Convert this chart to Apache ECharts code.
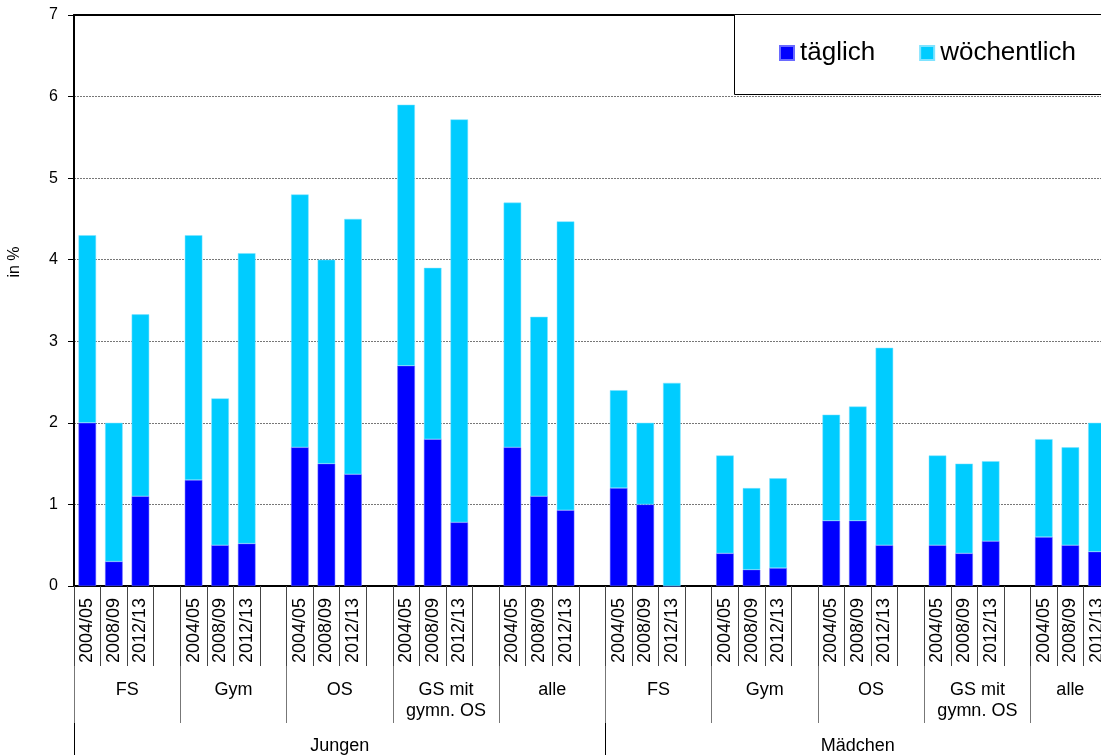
<!DOCTYPE html>
<html>
<head>
<meta charset="utf-8">
<script src="https://cdn.jsdelivr.net/npm/echarts@6/dist/echarts.min.js"></script>
<style>
html,body{margin:0;padding:0;background:#fff;}
#chart{width:1101px;height:755px;}
</style>
</head>
<body>
<div id="chart"></div>
<script>
const genders = ['Jungen', 'Mädchen'];
const groups = ['FS', 'Gym', 'OS', 'GS mit\ngymn. OS', 'alle'];
const years = ['2004/05', '2008/09', '2012/13'];
const yTicks = [0, 1, 2, 3, 4, 5, 6, 7];

// täglich (dark blue segment), per group: 2004/05, 2008/09, 2012/13
const taeglichJungen  = [2.0, 0.3, 1.1,  1.3, 0.5, 0.52,  1.7, 1.5, 1.37,  2.7, 1.8, 0.78,  1.7, 1.1, 0.93];
const taeglichMaedchen = [1.2, 1.0, 0.0,  0.4, 0.2, 0.22,  0.8, 0.8, 0.5,  0.5, 0.4, 0.55,  0.6, 0.5, 0.42];
// wöchentlich (light blue segment stacked on top)
const woechentlichJungen  = [2.3, 1.7, 2.23,  3.0, 1.8, 3.56,  3.1, 2.5, 3.13,  3.2, 2.1, 4.94,  3.0, 2.2, 3.54];
const woechentlichMaedchen = [1.2, 1.0, 2.49,  1.2, 1.0, 1.1,  1.3, 1.4, 2.42,  1.1, 1.1, 0.98,  1.2, 1.2, 1.58];

const font = 'Arial, "Liberation Sans", sans-serif';

// layout (not data)
const slotW = 26.57;       // width of one category slot in px
const lastShift = slotW;   // last group has no trailing gap: shift its labels left by half a slot

// build the slot axis: 3 years + 1 empty gap per group
const slotCats = [];
const groupCats = [];
const tData = [];
const wData = [];
const tSrc = [taeglichJungen, taeglichMaedchen];
const wSrc = [woechentlichJungen, woechentlichMaedchen];
genders.forEach((g, gi) => {
  groups.forEach((grp, k) => {
    const isLast = gi === genders.length - 1 && k === groups.length - 1;
    groupCats.push(isLast ? {value: grp, textStyle: {padding: [0, lastShift, 0, 0]}} : grp);
    years.forEach((y, yi) => {
      slotCats.push(y);
      tData.push(tSrc[gi][k * 3 + yi]);
      wData.push(wSrc[gi][k * 3 + yi]);
    });
    slotCats.push('');
    tData.push(null);
    wData.push(null);
  });
});
const genderCats = genders.map((g, i) =>
  i === genders.length - 1 ? {value: g, textStyle: {padding: [0, lastShift, 0, 0]}} : g);

const chart = echarts.init(document.getElementById('chart'), null, {renderer: 'canvas'});
chart.setOption({
  animation: false,
  backgroundColor: '#fff',
  textStyle: {fontFamily: font, color: '#000'},
  grid: {left: 74, top: 15, width: slotW * slotCats.length, height: 571, containLabel: false, outerBoundsMode: 'none'},
  legend: {
    left: 779, top: 40,
    padding: 0,
    itemWidth: 14, itemHeight: 14, itemGap: 44,
    icon: 'rect',
    textStyle: {fontSize: 26, color: '#000', fontFamily: font, padding: [0, 0, 0, 1]},
    data: ['täglich', 'wöchentlich']
  },
  xAxis: [
    {
      type: 'category', data: slotCats, position: 'bottom', boundaryGap: true,
      axisLine: {show: true, lineStyle: {color: '#000', width: 2}},
      axisTick: {show: true, interval: 0, length: 80, lineStyle: {color: '#444', width: 1}},
      axisLabel: {interval: 0, rotate: 90, fontSize: 18, margin: 12, color: '#000', fontFamily: font},
      splitLine: {show: false}
    },
    {
      type: 'category', data: groupCats, position: 'bottom', offset: 80, boundaryGap: true,
      axisLine: {show: false},
      axisTick: {show: true, interval: 0, length: 57, lineStyle: {color: '#777', width: 1}},
      axisLabel: {interval: 0, fontSize: 18, margin: 14, lineHeight: 21, color: '#000', fontFamily: font},
      splitLine: {show: false}
    },
    {
      type: 'category', data: genderCats, position: 'bottom', offset: 137, boundaryGap: true,
      axisLine: {show: false},
      axisTick: {show: true, interval: 0, length: 40, lineStyle: {color: '#000', width: 1}},
      axisLabel: {interval: 0, fontSize: 18, margin: 13, lineHeight: 21, color: '#000', fontFamily: font},
      splitLine: {show: false}
    },
    {
      type: 'category', data: slotCats, position: 'top',
      axisLine: {show: true, lineStyle: {color: '#000', width: 2}},
      axisTick: {show: false}, axisLabel: {show: false}, splitLine: {show: false}
    }
  ],
  yAxis: {
    type: 'value', min: yTicks[0], max: yTicks[yTicks.length - 1], interval: 1,
    axisLine: {show: true, lineStyle: {color: '#000', width: 2}},
    axisTick: {show: true, length: 6, lineStyle: {color: '#000'}},
    axisLabel: {fontSize: 16, margin: 16, color: '#000', fontFamily: font},
    splitLine: {show: true, lineStyle: {color: '#777', type: [2, 1], width: 1}}
  },
  graphic: [
    {
      type: 'text', x: 15, y: 262, rotation: Math.PI / 2,
      style: {text: 'in %', font: '16px ' + font, fill: '#000', align: 'center', verticalAlign: 'middle'}
    },
    {
      type: 'rect', z: 3, shape: {x: 734.5, y: 14.5, width: 420, height: 80},
      style: {fill: '#fff', stroke: '#000', lineWidth: 1}
    }
  ],
  series: [
    {name: 'täglich', type: 'bar', stack: 'a', data: tData, barWidth: '66%', xAxisIndex: 0,
     itemStyle: {color: '#0000FF', borderColor: '#6a6aff', borderWidth: 0.5}},
    {name: 'wöchentlich', type: 'bar', stack: 'a', data: wData, barWidth: '66%', xAxisIndex: 0,
     itemStyle: {color: '#00CCFF', borderColor: '#7fe3ff', borderWidth: 0.5}}
  ]
});
</script>
</body>
</html>
